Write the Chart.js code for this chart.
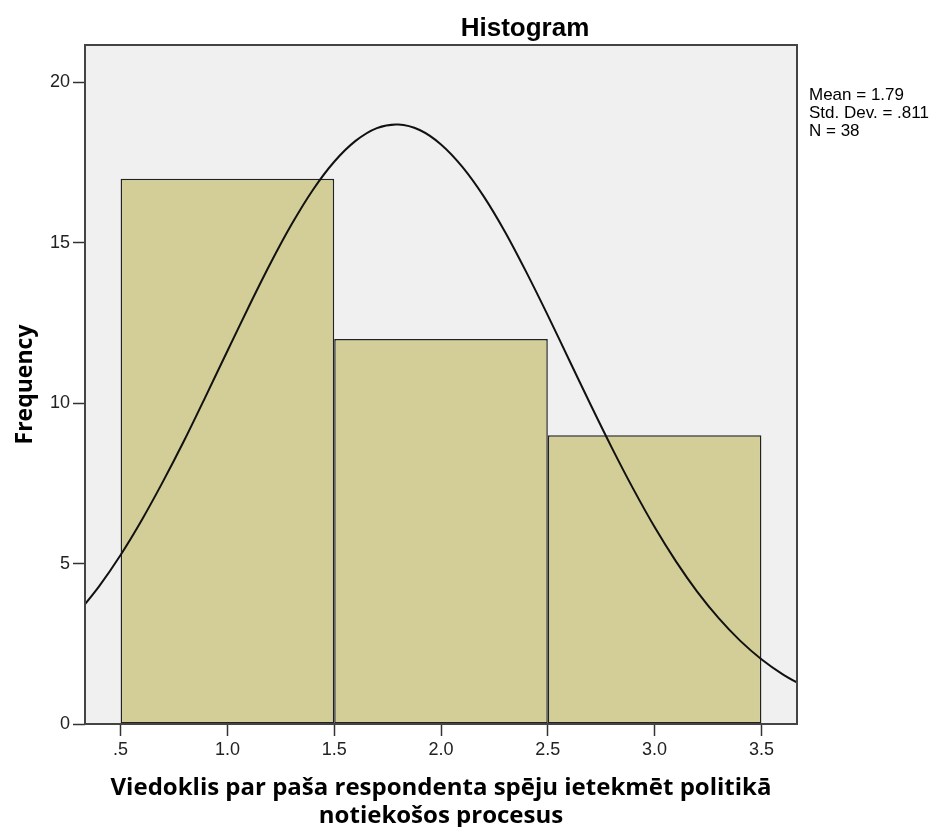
<!DOCTYPE html>
<html>
<head>
<meta charset="utf-8">
<script src="https://cdn.jsdelivr.net/npm/chart.js@4.4.0/dist/chart.umd.min.js"></script>
<style>
  html, body { margin: 0; padding: 0; background: #fff; }
</style>
</head>
<body>
<canvas id="histChart" width="940" height="827"></canvas>
<script>
// Histogram bins (centre of each bin) and their counts
const binCenters = [1, 2, 3];
const binCounts = [17, 12, 9];

// Normal curve
const curveX = [0.3, 0.4, 0.5, 0.6, 0.7, 0.8, 0.9, 1.0, 1.1, 1.2, 1.3, 1.4, 1.5, 1.6, 1.7, 1.8,
                1.9, 2.0, 2.1, 2.2, 2.3, 2.4, 2.5, 2.6, 2.7, 2.8, 2.9, 3.0, 3.1, 3.2, 3.3, 3.4, 3.5, 3.6, 3.7];
const curveY = [3.46, 4.30, 5.27, 6.37, 7.58, 8.87, 10.24, 11.63, 13.01, 14.34, 15.57, 16.65, 17.53, 18.18, 18.58, 18.69,
                18.52, 18.07, 17.37, 16.45, 15.34, 14.08, 12.74, 11.35, 9.96, 8.61, 7.33, 6.14, 5.07, 4.12, 3.30, 2.60, 2.02, 1.55, 1.17];

// Axis ticks
const xTickValues = [0.5, 1.0, 1.5, 2.0, 2.5, 3.0, 3.5];
const xTickLabels = ['.5', '1.0', '1.5', '2.0', '2.5', '3.0', '3.5'];
const yTickValues = [0, 5, 10, 15, 20];

// Texts
const chartTitle = 'Histogram';
const xTitle = ['Viedoklis par paša respondenta spēju ietekmēt politikā', 'notiekošos procesus'];
const yTitle = 'Frequency';
const statsLines = ['Mean = 1.79', 'Std. Dev. = .811', 'N = 38'];

const tickFont = { family: '"Liberation Sans", Arial, sans-serif', size: 18 };
const titleFamily = '"Open Sans", sans-serif';

// plot background, frame, title and the stats box
const spssDecor = {
    id: 'spssDecor',
    beforeDraw(chart) {
        const { ctx, chartArea: a } = chart;
        ctx.save();
        ctx.fillStyle = '#f0f0f0';
        ctx.fillRect(a.left, a.top, a.right - a.left, a.bottom - a.top);
        ctx.restore();
    },
    afterDraw(chart) {
        const { ctx, chartArea: a } = chart;
        ctx.save();
        ctx.strokeStyle = '#444';
        ctx.lineWidth = 2;
        ctx.strokeRect(a.left, a.top, a.right - a.left, a.bottom - a.top);

        ctx.fillStyle = '#000';
        ctx.font = 'bold 26px "Liberation Sans", Arial, sans-serif';
        ctx.textAlign = 'center';
        ctx.textBaseline = 'alphabetic';
        ctx.fillText(chartTitle, 525, 36);

        ctx.font = '17px "Liberation Sans", Arial, sans-serif';
        ctx.textAlign = 'left';
        statsLines.forEach((line, i) => {
            ctx.fillText(line, a.right + 12, 100 + i * 18);
        });
        ctx.restore();
    }
};

const ctx = document.getElementById('histChart').getContext('2d');
const histChart = new Chart(ctx, {
    type: 'bar',
    data: {
        datasets: [{
            type: 'line',
            label: 'Normal',
            data: curveX.map((x, i) => ({ x: x, y: curveY[i] })),
            borderColor: '#111',
            borderWidth: 2,
            pointRadius: 0,
            tension: 0.3,
            fill: false,
            clip: 0,
            order: 0
        }, {
            label: 'Frequency',
            data: binCenters.map((x, i) => ({ x: x, y: binCounts[i] })),
            backgroundColor: '#d3ce97',
            borderColor: '#222',
            borderWidth: 1.5,
            borderSkipped: false,
            categoryPercentage: 1,
            barPercentage: 2,
            order: 1
        }]
    },
    options: {
        responsive: false,
        animation: false,
        layout: { padding: { top: 45, right: 143, left: 0, bottom: 0 } },
        plugins: {
            legend: { display: false },
            tooltip: { enabled: false },
            title: { display: false }
        },
        scales: {
            x: {
                type: 'linear',
                min: 1 / 3,
                max: 11 / 3,
                offset: false,
                afterBuildTicks: (scale) => { scale.ticks = xTickValues.map(v => ({ value: v })); },
                afterFit: (scale) => { scale.height = 103; },
                border: { display: false },
                grid: {
                    offset: false,
                    drawOnChartArea: false,
                    drawTicks: true,
                    tickLength: 12,
                    tickColor: '#333',
                    tickWidth: 1.5
                },
                ticks: {
                    autoSkip: false,
                    maxRotation: 0,
                    padding: 3,
                    color: '#222',
                    font: tickFont,
                    callback: (v) => xTickLabels[xTickValues.indexOf(v)]
                },
                title: {
                    display: true,
                    text: xTitle,
                    color: '#000',
                    font: { family: titleFamily, size: 24, weight: 'bold', lineHeight: 1.17 },
                    padding: { top: 0, bottom: -3 }
                }
            },
            y: {
                min: 0,
                max: 21.17,
                afterBuildTicks: (scale) => { scale.ticks = yTickValues.map(v => ({ value: v })); },
                afterFit: (scale) => { scale.width = 85; },
                border: { display: false },
                grid: {
                    drawOnChartArea: false,
                    drawTicks: true,
                    tickLength: 12,
                    tickColor: '#333',
                    tickWidth: 1.5
                },
                ticks: {
                    padding: 3,
                    color: '#222',
                    font: tickFont
                },
                title: {
                    display: true,
                    text: yTitle,
                    color: '#000',
                    font: { family: titleFamily, size: 23, weight: 'bold', lineHeight: 1.2 },
                    padding: { top: 12, bottom: 0 }
                }
            }
        }
    },
    plugins: [spssDecor]
});
</script>
</body>
</html>
